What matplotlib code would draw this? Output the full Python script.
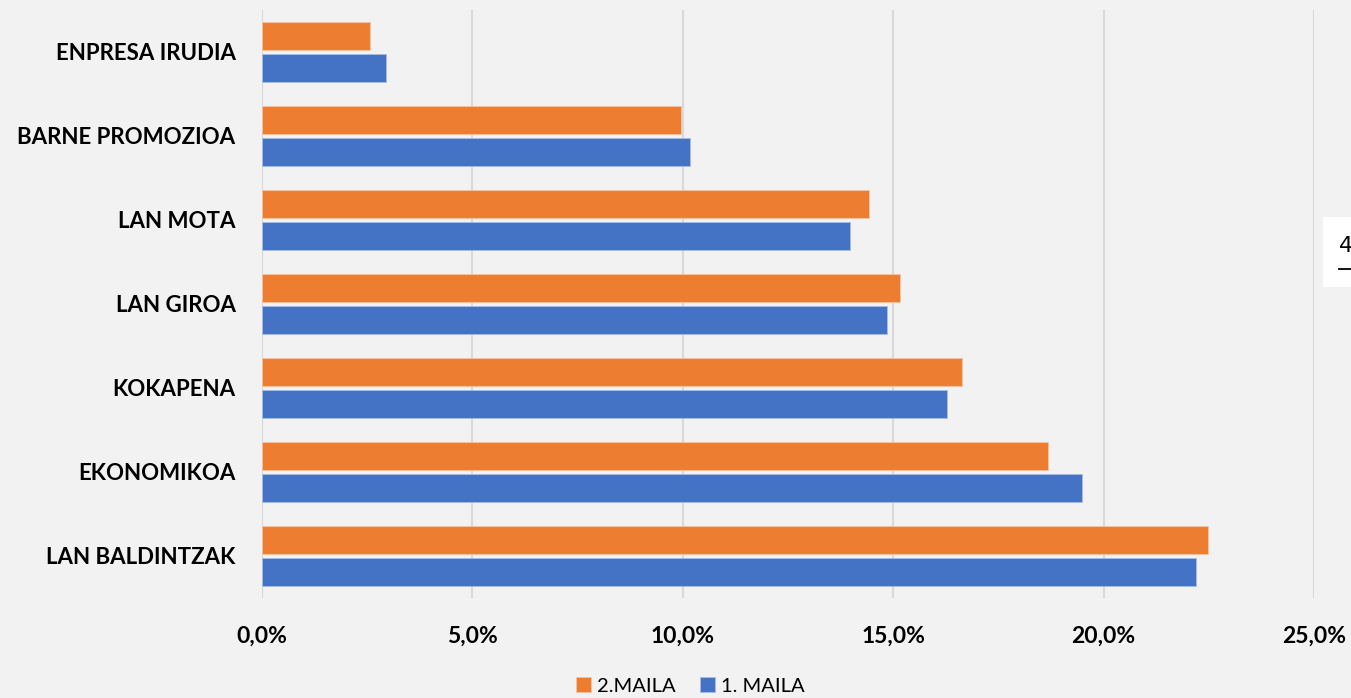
import numpy as np
import matplotlib
matplotlib.use("Agg")
import matplotlib.pyplot as plt
from matplotlib.patches import Rectangle
from matplotlib.ticker import FuncFormatter

plt.rcParams["font.family"] = ["Lato", "DejaVu Sans"]

categories = ["LAN BALDINTZAK", "EKONOMIKOA", "KOKAPENA", "LAN GIROA",
              "LAN MOTA", "BARNE PROMOZIOA", "ENPRESA IRUDIA"]
maila2 = [22.47, 18.67, 16.63, 15.15, 14.42, 9.96, 2.57]
maila1 = [22.19, 19.48, 16.29, 14.85, 13.97, 10.17, 2.95]
xticks = [0, 5, 10, 15, 20, 25]

BG = "#F2F2F2"
ORANGE = "#ED7D31"
BLUE = "#4472C4"

fig = plt.figure(figsize=(13.51, 6.98), dpi=100, facecolor=BG)
ax = fig.add_axes([262/1351, 1 - 598/698, (1314-262)/1351, 588/698])
ax.set_facecolor(BG)

y = np.arange(len(categories))
h = 0.335
off = 0.195
ax.barh(y + off, maila2, height=h, color=ORANGE, edgecolor="#F6C4A3",
        linewidth=0.6, label="2.MAILA", zorder=3)
ax.barh(y - off, maila1, height=h, color=BLUE, edgecolor="#A9BDE6",
        linewidth=0.6, label="1. MAILA", zorder=3)

ax.set_xlim(0, 25)
ax.set_ylim(-0.5, len(categories) - 0.5)
ax.set_xticks(xticks)
ax.xaxis.set_major_formatter(FuncFormatter(lambda v, p: f"{v:.1f}%".replace(".", ",")))
ax.set_yticks(y)
ax.set_yticklabels(categories)
for s in ax.spines.values():
    s.set_visible(False)
ax.tick_params(length=0)
ax.tick_params(axis="x", pad=20, labelsize=16.5)
ax.tick_params(axis="y", pad=19, labelsize=16)
for t in ax.get_xticklabels() + ax.get_yticklabels():
    t.set_fontweight("bold")
ax.grid(axis="x", color="#D9D9D9", linewidth=1.5, zorder=0)

leg = fig.legend(loc="center", bbox_to_anchor=(690/1351, 1 - 686/698), ncol=2,
                 frameon=False, fontsize=14.5, handlelength=0.75, handleheight=0.75,
                 handletextpad=0.3, columnspacing=1.2)

# white fragment at right edge
fig.patches.append(Rectangle((1323/1351, 1 - 287/698), 28/1351, 70/698,
                             transform=fig.transFigure, facecolor="white",
                             edgecolor="none", zorder=5))
fig.text(1339/1351, 1 - 246/698, "4", fontsize=16, va="center", ha="left",
         zorder=6, family="DejaVu Sans")
fig.lines.append(plt.Line2D([1339/1351, 1], [1 - 269/698, 1 - 269/698],
                            transform=fig.transFigure, color="black",
                            linewidth=1.3, zorder=6))

fig.savefig("out.png", dpi=100, facecolor=BG)
